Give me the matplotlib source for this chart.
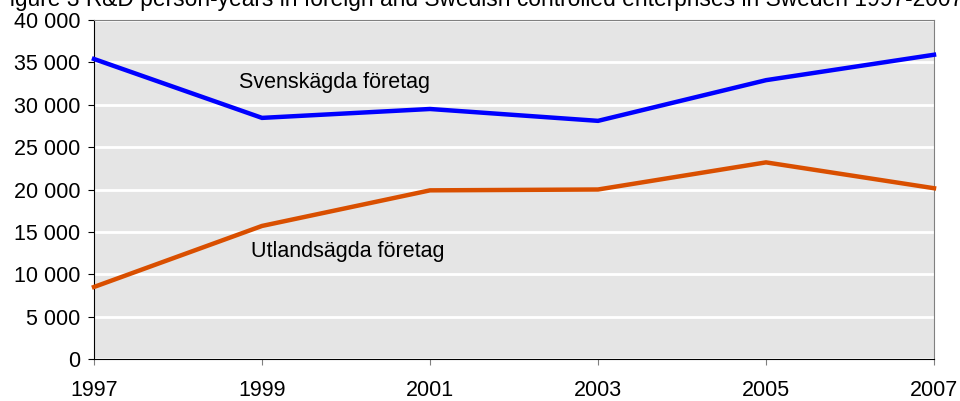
import matplotlib.pyplot as plt
from matplotlib.ticker import FuncFormatter

plt.rcParams['font.family'] = ['Liberation Sans', 'DejaVu Sans']

years = [1997, 1999, 2001, 2003, 2005, 2007]
swedish = [35400, 28450, 29500, 28100, 32900, 35900]
foreign = [8500, 15700, 19900, 20000, 23200, 20150]

title = ('Figure 3 R&D person-years in foreign and Swedish controlled '
         'enterprises in Sweden 1997-2007')

fig = plt.figure(figsize=(9.6, 4.01), dpi=100)
ax = fig.add_axes([94 / 960, 1 - 359 / 401, 840 / 960, 339 / 401])
ax.set_facecolor('#e5e5e5')

ax.plot(years, swedish, color='#0000ff', lw=3.2, solid_joinstyle='miter',
        clip_on=False, zorder=3)
ax.plot(years, foreign, color='#d94f00', lw=3.2, solid_joinstyle='miter',
        clip_on=False, zorder=3)

ax.text(1998.73, 32600, 'Svenskägda företag', fontsize=15.5, va='center')
ax.text(1998.87, 12650, 'Utlandsägda företag', fontsize=15.5, va='center')

ax.set_xlim(1997, 2007)
ax.set_ylim(0, 40000)
ax.set_xticks(years)
ax.set_yticks(range(0, 40001, 5000))
ax.yaxis.set_major_formatter(
    FuncFormatter(lambda v, p: f'{int(v):,}'.replace(',', ' ')))
ax.grid(axis='y', color='white', lw=2)
ax.set_axisbelow(True)

for side in ['top', 'right']:
    ax.spines[side].set_color('#808080')
for side in ['left', 'bottom']:
    ax.spines[side].set_color('black')
ax.tick_params(axis='y', length=4, labelsize=15.5, pad=6)
ax.tick_params(axis='x', length=4, labelsize=15.5, pad=11, color='#808080')

# title sits partly above the top edge, as in the source image
fig.text(0.5, 1 - 6 / 401, title, fontsize=16.4, ha='center',
         va='baseline')

plt.savefig('out.png', dpi=100)
